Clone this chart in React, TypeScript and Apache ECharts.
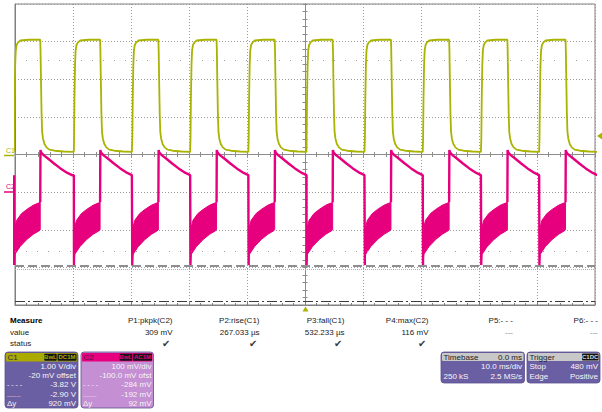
import React, { useEffect, useRef } from 'react';
import * as echarts from 'echarts';

// ---------- channel settings (from the panels) ----------
const C1_COLOR = '#a9b300';
const C2_COLOR = '#e6007e';
const C1_VOLTS_PER_DIV = 1.0;
const C1_OFFSET_V = -0.02;
const C2_MV_PER_DIV = 100;
const C2_OFFSET_MV = -100;

// ---------- waveform data ----------
// times (ms) at which C1 starts each rising edge
const riseTimesMs = [-50.17, -39.85, -29.8, -19.77, -9.74, 0.25, 10.3, 20.33, 30.37, 40.4];

// C1: one period, time after the rising edge (ms) and level (V)
const c1CycleMs = [0, 0.03, 0.1, 0.2, 0.3, 0.45, 0.7, 1.1, 2.5, 4.52, 4.57, 4.65, 4.75, 4.85, 5.0, 5.25, 5.6, 6.1, 7.0, 8.5, 10.0];
const c1CycleV = [0.1, 0.45, 1.5, 2.4, 2.78, 2.93, 3.0, 3.05, 3.07, 3.07, 2.8, 2.0, 1.1, 0.62, 0.44, 0.3, 0.21, 0.15, 0.12, 0.1, 0.09];

// C2: drop at C1 rising edge (ms after rise, mV)
const c2DropMs = [0, 0.02];
const c2DropMv = [45, -194];
// C2: noisy band while C1 is high (upper and lower envelopes)
const c2BandTopMs = [0.02, 0.45, 1.3, 2.2, 3.3, 4.3, 4.52];
const c2BandTopMv = [-101, -75, -57, -46, -35, -28.5, -27];
const c2BandBottomMs = [0.02, 0.17, 1.03, 2.2, 3.33, 4.3, 4.52];
const c2BandBottomMv = [-194, -165, -145, -126, -112, -103, -100];
// C2: jump and decay while C1 is low
const c2DecayMs = [4.52, 4.56, 4.62, 4.8, 5.2, 5.8, 6.9, 8.0, 9.2, 10.0];
const c2DecayMv = [-27, 112, 108, 103, 97, 90, 76, 63, 51, 45];

// cursor / reference lines (divisions)
const cursorDashedDiv = -2.96;
const cursorDottedDiv = -3.04;
const cursorDashDotDiv = -3.89;
const dotRowsDiv = [2.51, -2.56];

// ---------- measurement table ----------
const measureNames = ['P1:pkpk(C2)', 'P2:rise(C1)', 'P3:fall(C1)', 'P4:max(C2)', 'P5:- - -', 'P6:- - -'];
const measureValues = ['309 mV', '267.033 µs', '532.233 µs', '116 mV', '---', '---'];
const measureStatus = [true, true, true, true, false, false];

const c1PanelRows = ['1.00 V/div', '-20 mV offset', '-3.82 V', '-2.90 V', '920 mV'];
const c2PanelRows = ['100 mV/div', '-100.0 mV ofst', '-284 mV', '-192 mV', '92 mV'];
const panelRowLabels = ['', '', '- - - -', '.......', 'Δy'];

const c1Div = (v: number) => (v + C1_OFFSET_V) / C1_VOLTS_PER_DIV;
const c2Div = (mv: number) => (mv + C2_OFFSET_MV) / C2_MV_PER_DIV;

const FONT = '"Liberation Sans", Arial, Helvetica, sans-serif';

function txt(x: number, y: number, text: string, o: any = {}) {
  const size = o.size ?? 8;
  const weight = o.bold ? 'bold ' : '';
  const align = o.align ?? 'left';
  return {
    type: 'text',
    x,
    y,
    silent: true,
    z: o.z ?? 10,
    style: {
      text,
      fill: o.fill ?? '#222',
      font: `${weight}${size}px ${o.family ?? FONT}`,
      align,
      textAlign: align,
      verticalAlign: 'middle',
      textVerticalAlign: 'middle',
    },
  };
}
function rect(x: number, y: number, w: number, h: number, fill: string, r = 0, z = 5, stroke?: string) {
  return {
    type: 'rect',
    silent: true,
    z,
    shape: { x, y, width: w, height: h, r },
    style: { fill, stroke: stroke ?? null, lineWidth: stroke ? 0.8 : 0 },
  };
}

function buildC1() {
  const out: any[] = [];
  riseTimesMs.forEach((t0) => {
    c1CycleMs.forEach((dt, i) => out.push([t0 + dt, c1Div(c1CycleV[i])]));
  });
  return out;
}
function buildC2() {
  const out: any[] = [];
  riseTimesMs.forEach((t0) => {
    c2DropMs.forEach((dt, i) => out.push([t0 + dt, c2Div(c2DropMv[i])]));
    out.push([t0 + 2, '-']);
    c2DecayMs.forEach((dt, i) => out.push([t0 + dt, c2Div(c2DecayMv[i])]));
  });
  return out;
}

export default function App() {
  const ref = useRef<HTMLDivElement>(null);
  useEffect(() => {
    if (!ref.current) return;
    const chart = echarts.init(ref.current, undefined, { renderer: 'svg' });

    const gridColor = '#9c9c9c';
    const axisCommon = {
      type: 'value',
      axisLabel: { show: false },
      splitLine: { show: false },
    };
    const xCenter = (inside: boolean) => ({
      ...axisCommon,
      min: -50, max: 50, interval: 10,
      position: 'bottom',
      axisLine: { show: true, onZero: true, onZeroAxisIndex: 0, lineStyle: { color: '#8c8c8c', width: 1 } },
      axisTick: { show: true, inside, length: 2.5, lineStyle: { color: '#8c8c8c' } },
      minorTick: { show: true, splitNumber: 5, length: 2.5, lineStyle: { color: '#8c8c8c' } },
    });
    const yCenter = (inside: boolean) => ({
      ...axisCommon,
      min: -4, max: 4, interval: 1,
      position: 'left',
      axisLine: { show: true, onZero: true, onZeroAxisIndex: 0, lineStyle: { color: '#8c8c8c', width: 1 } },
      axisTick: { show: true, inside, length: 2.5, lineStyle: { color: '#8c8c8c' } },
      minorTick: { show: true, splitNumber: 5, length: 2.5, lineStyle: { color: '#8c8c8c' } },
    });

    const graphics: any[] = [];
    // channel ground markers
    graphics.push(txt(6, 150, 'C1', { size: 7, fill: C1_COLOR }));
    graphics.push({ type: 'line', silent: true, z: 10, shape: { x1: 4, y1: 155.5, x2: 14, y2: 155.5 }, style: { stroke: C1_COLOR, lineWidth: 1.5 } });
    graphics.push(txt(6, 186.5, 'C2', { size: 7, fill: C2_COLOR }));
    graphics.push({ type: 'line', silent: true, z: 10, shape: { x1: 4, y1: 192, x2: 14, y2: 192 }, style: { stroke: C2_COLOR, lineWidth: 1.5 } });
    // trigger markers
    graphics.push({ type: 'polygon', silent: true, z: 10, shape: { points: [[597, 136], [602, 132.5], [602, 139.5]] }, style: { fill: C1_COLOR } });
    graphics.push({ type: 'polygon', silent: true, z: 10, shape: { points: [[305.5, 306.5], [302.5, 311.5], [308.5, 311.5]] }, style: { fill: C1_COLOR } });

    // measurement table
    graphics.push(txt(10, 320.5, 'Measure', { bold: true, fill: '#000' }));
    graphics.push(txt(10, 332, 'value', { fill: '#222' }));
    graphics.push(txt(10, 343.5, 'status', { fill: '#222' }));
    const colRight = [172.5, 259.5, 344.5, 428.5, 513, 598];
    measureNames.forEach((n, i) => {
      graphics.push(txt(colRight[i], 320.5, n, { align: 'right' }));
      graphics.push(txt(colRight[i], 332, measureValues[i], { align: 'right', fill: measureValues[i] === '---' ? '#888' : '#222' }));
      if (measureStatus[i]) graphics.push(txt(colRight[i] - 2, 343.5, '✔', { align: 'right', size: 10, fill: '#3a3a3a', family: '"DejaVu Sans", sans-serif' }));
    });

    // channel panels
    const rowsY = [366.8, 375.8, 384.8, 394.2, 403.2];
    const panel = (x: number, w: number, body: string, head: string, name: string, tags: string[], rows: string[], nameFill: string) => {
      graphics.push(rect(x, 352, w, 56, body, 3, 5, '#5a5090'));
      graphics.push(rect(x + 1, 353, w - 2, 8.5, head, 1, 6));
      graphics.push(txt(x + 2.5, 357.3, name, { size: 8, fill: nameFill, z: 12 }));
      const w2 = 19, w1 = 12.5;
      const bx2 = x + w - 1.5 - w2;
      const bx1 = bx2 - 0.8 - w1;
      graphics.push(rect(bx1, 353.8, w1, 7, '#141414', 1, 7));
      graphics.push(rect(bx2, 353.8, w2, 7, '#141414', 1, 7));
      graphics.push(txt(bx1 + w1 / 2, 357.3, tags[0], { size: 6, bold: true, fill: head, align: 'center', z: 12 }));
      graphics.push(txt(bx2 + w2 / 2, 357.3, tags[1], { size: 6, bold: true, fill: head, align: 'center', z: 12 }));
      rows.forEach((r, i) => {
        graphics.push(txt(x + w - 2, rowsY[i], r, { align: 'right', fill: '#f6f6f6', z: 12 }));
        if (panelRowLabels[i]) graphics.push(txt(x + 2, rowsY[i], panelRowLabels[i], { fill: '#f0f0f0', z: 12, size: i === 4 ? 8 : 7 }));
      });
    };
    panel(5, 73, '#6b5fa4', '#aaaa00', 'C1', ['BwL', 'DC1M'], c1PanelRows, '#2e2960');
    panel(81, 72.5, '#c48fd3', C2_COLOR, 'C2', ['BwL', 'AC1M'], c2PanelRows, '#5a1040');

    // timebase & trigger
    graphics.push(rect(441, 352, 83.5, 31, '#6b5fa4', 3, 5, '#5a5090'));
    graphics.push(rect(442, 353, 81.5, 8, '#c8c8c8', 1, 6));
    graphics.push(txt(443.5, 357, 'Timebase', { fill: '#222', z: 12 }));
    graphics.push(txt(522, 357, '0.0 ms', { fill: '#222', align: 'right', z: 12 }));
    graphics.push(txt(522, 366.3, '10.0 ms/div', { fill: '#f6f6f6', align: 'right', z: 12 }));
    graphics.push(txt(443.5, 376.5, '250 kS', { fill: '#f6f6f6', z: 12 }));
    graphics.push(txt(522, 376.5, '2.5 MS/s', { fill: '#f6f6f6', align: 'right', z: 12 }));

    graphics.push(rect(527, 352, 73, 31, '#6b5fa4', 3, 5, '#5a5090'));
    graphics.push(rect(528, 353, 71, 8, '#c8c8c8', 1, 6));
    graphics.push(txt(529.5, 357, 'Trigger', { fill: '#222', z: 12 }));
    graphics.push(rect(582, 353.6, 16.5, 7, '#141414', 1, 7));
    graphics.push(txt(590.2, 357.1, 'C1DC', { size: 6, bold: true, fill: '#d8d8d8', align: 'center', z: 12 }));
    graphics.push(txt(529.5, 366.3, 'Stop', { fill: '#f6f6f6', z: 12 }));
    graphics.push(txt(598, 366.3, '480 mV', { fill: '#f6f6f6', align: 'right', z: 12 }));
    graphics.push(txt(529.5, 376.5, 'Edge', { fill: '#f6f6f6', z: 12 }));
    graphics.push(txt(598, 376.5, 'Positive', { fill: '#f6f6f6', align: 'right', z: 12 }));

    const option: any = {
      animation: false,
      backgroundColor: '#ffffff',
      grid: {
        left: 15, top: 4, width: 580, height: 301,
        show: true, borderColor: '#808080', borderWidth: 1,
        containLabel: false, outerBoundsMode: 'none',
      },
      xAxis: [
        {
          ...axisCommon,
          min: -50, max: 50, interval: 10,
          position: 'bottom',
          axisLine: { show: true, onZero: false, lineStyle: { color: '#808080' } },
          axisTick: { show: true, inside: true, length: 4, lineStyle: { color: '#808080' } },
          minorTick: { show: true, splitNumber: 5, length: 2, lineStyle: { color: '#808080' } },
          splitLine: { show: true, lineStyle: { color: gridColor, type: [1, 2], width: 1 } },
        },
        xCenter(true),
        xCenter(false),
      ],
      yAxis: [
        {
          ...axisCommon,
          min: -4, max: 4, interval: 1,
          position: 'left',
          axisLine: { show: true, onZero: false, lineStyle: { color: '#808080' } },
          axisTick: { show: false },
          splitLine: { show: true, lineStyle: { color: gridColor, type: [1, 2], width: 1 } },
        },
        yCenter(true),
        yCenter(false),
      ],
      series: [
        {
          type: 'line',
          name: 'C1',
          xAxisIndex: 0, yAxisIndex: 0,
          data: buildC1(),
          showSymbol: false,
          symbol: 'none',
          lineStyle: { color: C1_COLOR, width: 1.8 },
          z: 3,
          markLine: {
            silent: true,
            symbol: 'none',
            animation: false,
            label: { show: false },
            data: [
              { yAxis: cursorDashedDiv, lineStyle: { color: '#8f8f8f', width: 2, type: [9, 4] } },
              { yAxis: cursorDottedDiv, lineStyle: { color: '#b0b0b0', width: 1, type: [1, 1] } },
              { yAxis: cursorDashDotDiv, lineStyle: { color: '#3c3c3c', width: 1, type: [10, 3, 2, 3] } },
              ...dotRowsDiv.map((v) => ({ yAxis: v, lineStyle: { color: '#a0a0a0', width: 1, type: [1, 10] } })),
            ],
          },
        },
        {
          type: 'custom',
          name: 'C2 band',
          xAxisIndex: 0, yAxisIndex: 0,
          clip: true,
          z: 4,
          data: riseTimesMs.map((t) => [t, 0]),
          renderItem: (params: any, api: any) => {
            const t0 = api.value(0) as number;
            const pts: number[][] = [];
            c2BandTopMs.forEach((dt, i) => pts.push(api.coord([t0 + dt, c2Div(c2BandTopMv[i])])));
            for (let i = c2BandBottomMs.length - 1; i >= 0; i--) {
              pts.push(api.coord([t0 + c2BandBottomMs[i], c2Div(c2BandBottomMv[i])]));
            }
            return {
              type: 'polygon',
              shape: { points: pts },
              style: { fill: C2_COLOR, stroke: C2_COLOR, lineWidth: 1 },
            };
          },
        },
        {
          type: 'line',
          name: 'C2',
          xAxisIndex: 0, yAxisIndex: 0,
          data: buildC2(),
          showSymbol: false,
          symbol: 'none',
          connectNulls: false,
          lineStyle: { color: C2_COLOR, width: 2.4 },
          z: 5,
        },
      ],
      graphic: { elements: graphics },
    };
    chart.setOption(option);
    return () => chart.dispose();
  }, []);

  return (
    <div
      ref={ref}
      style={{ position: 'absolute', left: 0, top: 0, width: 602, height: 412, background: '#fff' }}
    />
  );
}
